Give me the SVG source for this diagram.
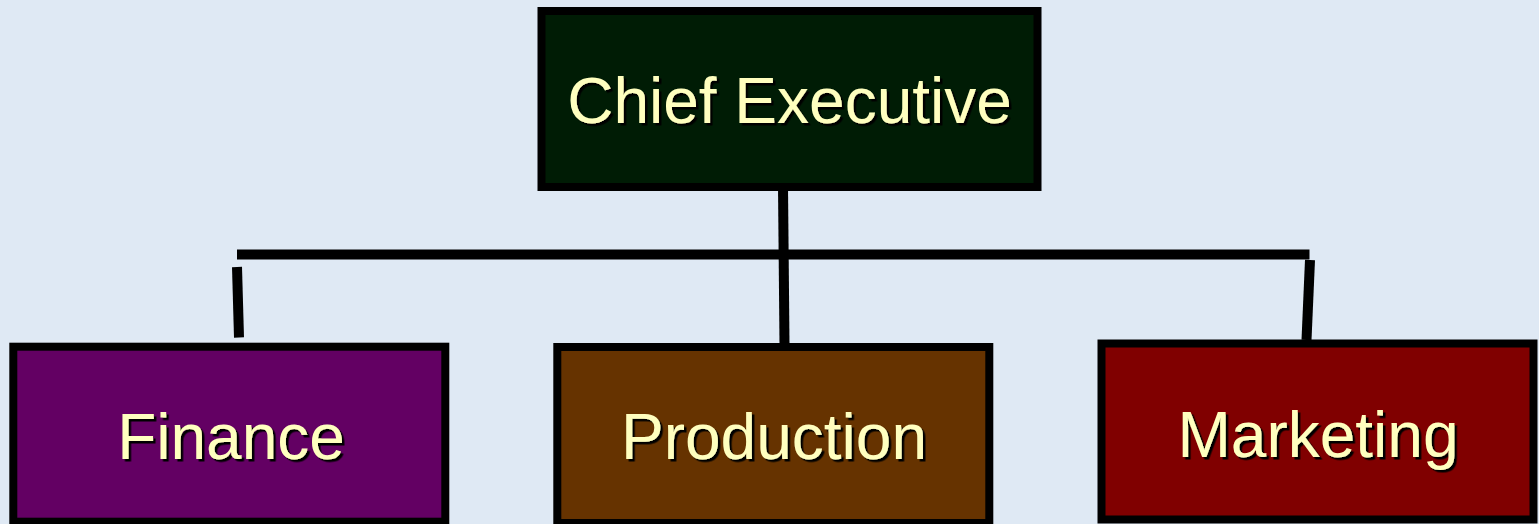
<svg xmlns="http://www.w3.org/2000/svg" width="1539" height="524" viewBox="0 0 1539 524">
  <defs>
    <filter id="shadow" x="-10%" y="-20%" width="120%" height="150%">
      <feDropShadow dx="2.5" dy="2.5" stdDeviation="0.3" flood-color="#000000" flood-opacity="1"/>
    </filter>
  </defs>
  <style>
    .box { stroke: #000000; stroke-width: 8; }
    .label { font-family: "Liberation Sans", Arial, sans-serif; font-size: 64px; fill: #FFFFBF; text-anchor: middle; filter: url(#shadow); }
    .conn { stroke: #000000; stroke-width: 10; stroke-linecap: butt; fill: none; }
  </style>
  <rect x="0" y="0" width="1539" height="524" fill="#DFE9F4"/>
  <g id="connectors">
    <line class="conn" x1="237" y1="254.5" x2="1309.5" y2="254.5"/>
    <line class="conn" x1="783" y1="186" x2="784.5" y2="344"/>
    <line class="conn" x1="237" y1="267" x2="239" y2="337.5"/>
    <line class="conn" x1="1310" y1="260" x2="1306.5" y2="340"/>
  </g>
  <g id="chief-executive">
    <rect class="box" x="541.5" y="11" width="496" height="176" fill="#001C05"/>
    <text class="label" x="789.5" y="122.5">Chief Executive</text>
  </g>
  <g id="finance">
    <rect class="box" x="13.3" y="346.7" width="432" height="175" fill="#630063"/>
    <text class="label" x="231" y="459">Finance</text>
  </g>
  <g id="production">
    <rect class="box" x="557.3" y="347" width="432" height="176" fill="#663300"/>
    <text class="label" x="774" y="459">Production</text>
  </g>
  <g id="marketing">
    <rect class="box" x="1101.5" y="343.5" width="432" height="176" fill="#800000"/>
    <text class="label" x="1318" y="456.5">Marketing</text>
  </g>
</svg>
